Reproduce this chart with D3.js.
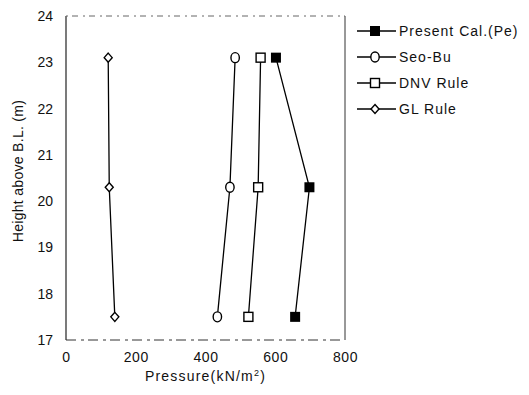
<!DOCTYPE html>
<html>
<head>
<meta charset="utf-8" />
<script src="https://d3js.org/d3.v7.min.js"></script>
<style>
  body { margin: 0; background: #fff; }
  text { font-family: "Liberation Sans", Arial, sans-serif; fill: #111; }
</style>
</head>
<body>
<div id="chart"></div>
<script>
// data
var heights = [23.1, 20.3, 17.5];
var presentCal = [602, 698, 657];
var seoBu = [485, 470, 434];
var dnvRule = [558, 551, 523];
var glRule = [121, 124, 140];
var seriesNames = ["Present Cal.(Pe)", "Seo-Bu", "DNV Rule", "GL Rule"];
var seriesSymbols = ["filledSquare", "circle", "square", "diamond"];
var xTicks = [0, 200, 400, 600, 800];
var yTicks = [17, 18, 19, 20, 21, 22, 23, 24];

var series = [presentCal, seoBu, dnvRule, glRule].map(function (vals, i) {
  return {
    name: seriesNames[i],
    symbol: seriesSymbols[i],
    points: vals.map(function (v, j) { return { x: v, y: heights[j] }; })
  };
});

var W = 529, H = 395;
var margin = { top: 16, right: 184, bottom: 55, left: 66 };
var width = W - margin.left - margin.right,
  height = H - margin.top - margin.bottom;

var svg = d3.select("#chart").append("svg")
  .attr("width", W).attr("height", H);
var g = svg.append("g")
  .attr("transform", "translate(" + margin.left + "," + margin.top + ")");

var x = d3.scaleLinear().domain([0, 800]).range([0, width]);
var y = d3.scaleLinear().domain([17, 24]).range([height, 0]);

// frame: solid sides, broken top/bottom like the scan
g.append("line").attr("x1", 0).attr("x2", 0).attr("y1", 0).attr("y2", height)
  .attr("stroke", "#222").attr("stroke-width", 1.2);
g.append("line").attr("x1", width).attr("x2", width).attr("y1", 0).attr("y2", height)
  .attr("stroke", "#333").attr("stroke-width", 1);
g.append("line").attr("x1", 0).attr("x2", width).attr("y1", 0).attr("y2", 0)
  .attr("stroke", "#666").attr("stroke-width", 1).attr("stroke-dasharray", "2,4,6,5");
g.append("line").attr("x1", 0).attr("x2", width).attr("y1", height).attr("y2", height)
  .attr("stroke", "#333").attr("stroke-width", 1).attr("stroke-dasharray", "10,5,3,4");

// axes
var xAxis = g.append("g")
  .attr("transform", "translate(0," + height + ")")
  .call(d3.axisBottom(x).tickValues(xTicks).tickFormat(d3.format("d")).tickSize(0).tickPadding(12));
xAxis.select(".domain").remove();
xAxis.selectAll("text").style("font-size", "14px").style("letter-spacing", "0.5px").attr("fill", "#111");

var yAxis = g.append("g")
  .call(d3.axisLeft(y).tickValues(yTicks).tickFormat(d3.format("d")).tickSize(0).tickPadding(13));
yAxis.select(".domain").remove();
yAxis.selectAll("text").style("font-size", "14px").attr("fill", "#111");

// axis titles
var xt = svg.append("text")
  .attr("x", margin.left + width / 2)
  .attr("y", 381)
  .attr("text-anchor", "middle")
  .style("font-size", "14px")
  .style("letter-spacing", "1.2px");
xt.append("tspan").text("Pressure(kN/m");
xt.append("tspan").attr("dy", -5).style("font-size", "9px").text("2");
xt.append("tspan").attr("dy", 5).text(")");

svg.append("text")
  .attr("transform", "translate(23,171) rotate(-90)")
  .attr("text-anchor", "middle")
  .style("font-size", "14px")
  .style("letter-spacing", "0.3px")
  .text("Height above B.L. (m)");

// symbols
function drawSymbol(sel, type, cx, cy) {
  if (type === "filledSquare") {
    sel.append("rect").attr("x", cx - 5).attr("y", cy - 5)
      .attr("width", 10).attr("height", 10).attr("fill", "#000");
  } else if (type === "square") {
    sel.append("rect").attr("x", cx - 4.5).attr("y", cy - 4.5)
      .attr("width", 9).attr("height", 9)
      .attr("fill", "#fff").attr("stroke", "#000").attr("stroke-width", 1.4);
  } else if (type === "circle") {
    sel.append("ellipse").attr("cx", cx).attr("cy", cy).attr("rx", 4.2).attr("ry", 5)
      .attr("fill", "#fff").attr("stroke", "#000").attr("stroke-width", 1.4);
  } else if (type === "diamond") {
    sel.append("path")
      .attr("d", "M" + cx + "," + (cy - 4.5) + "L" + (cx + 4) + "," + cy +
        "L" + cx + "," + (cy + 4.5) + "L" + (cx - 4) + "," + cy + "Z")
      .attr("fill", "#fff").attr("stroke", "#000").attr("stroke-width", 1.4);
  }
}

var line = d3.line().x(function (d) { return x(d.x); }).y(function (d) { return y(d.y); });

series.forEach(function (s) {
  g.append("path").datum(s.points)
    .attr("d", line)
    .attr("fill", "none").attr("stroke", "#000").attr("stroke-width", 1.3);
  s.points.forEach(function (p) {
    drawSymbol(g, s.symbol, x(p.x), y(p.y));
  });
});

// legend
var legend = svg.append("g");
series.forEach(function (s, i) {
  var ly = 31 + i * 26;
  legend.append("line").attr("x1", 357).attr("x2", 396).attr("y1", ly).attr("y2", ly)
    .attr("stroke", "#000").attr("stroke-width", 1.3);
  drawSymbol(legend, s.symbol, 375, ly);
  legend.append("text").attr("x", 399).attr("y", ly + 5)
    .style("font-size", "14px").style("letter-spacing", "1px").text(s.name);
});
</script>
</body>
</html>
